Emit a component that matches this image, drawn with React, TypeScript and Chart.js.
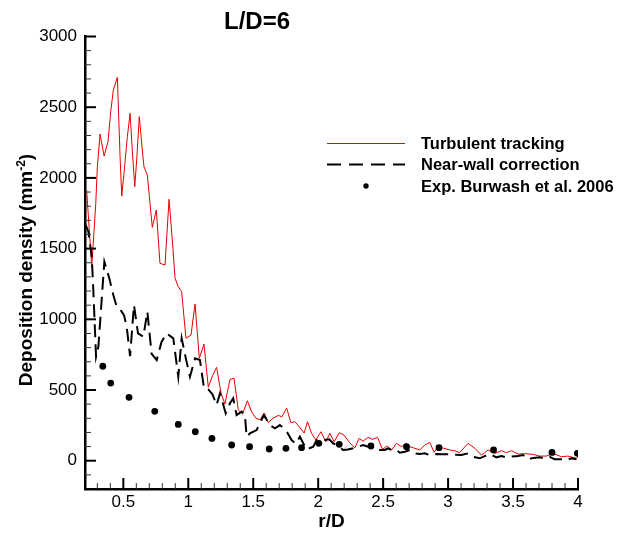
import React, { useEffect, useRef } from 'react';
import { Chart, registerables } from 'chart.js';

Chart.register(...registerables);

const FONT = '"Liberation Sans", Arial, Helvetica, sans-serif';

const TITLE = 'L/D=6';
const X_TITLE = 'r/D';
const SERIES_LABELS = ['Turbulent tracking', 'Near-wall correction', 'Exp. Burwash et al. 2006'];

const X_TICKS = [0.5, 1, 1.5, 2, 2.5, 3, 3.5, 4];
const Y_TICKS = [0, 500, 1000, 1500, 2000, 2500, 3000];

// Turbulent tracking (simulation)
const TURB_R = [
  0.218, 0.24, 0.257, 0.288, 0.3, 0.321, 0.352, 0.382, 0.403, 0.423, 0.454, 0.475, 0.488, 0.505,
  0.531, 0.552, 0.569, 0.588, 0.603, 0.623, 0.646, 0.659, 0.685, 0.703, 0.723, 0.754, 0.782, 0.821,
  0.852, 0.882, 0.898, 0.923, 0.949, 0.982, 1.021, 1.052, 1.085, 1.121, 1.154, 1.186, 1.218, 1.252,
  1.282, 1.321, 1.352, 1.385, 1.418, 1.455, 1.488, 1.521, 1.552, 1.585, 1.615, 1.652, 1.692, 1.721,
  1.757, 1.79, 1.821, 1.859, 1.892, 1.918, 1.949, 1.982, 2.021, 2.059, 2.09, 2.123, 2.162, 2.198,
  2.24, 2.282, 2.315, 2.346, 2.385, 2.418, 2.457, 2.495, 2.531, 2.565, 2.603, 2.642, 2.675, 2.705,
  2.744, 2.782, 2.821, 2.859, 2.892, 2.923, 2.967, 3.013, 3.052, 3.09, 3.121, 3.154, 3.205, 3.257,
  3.308, 3.359, 3.411, 3.449, 3.488, 3.538, 3.59, 3.654, 3.705, 3.757, 3.808, 3.872, 3.923, 3.987, 4.0,
];
const TURB_D = [
  1914, 1600, 1372, 1820, 2079, 2310, 2155, 2256, 2468, 2621, 2711, 2150, 1872, 2032,
  2291, 2457, 2197, 1938, 2127, 2433, 2197, 2079, 2020, 1844, 1650, 1773, 1396, 1384,
  1849, 1500, 1290, 1231, 1195, 866, 889, 1108, 724, 825, 520, 600, 660, 480,
  400, 575, 583, 360, 330, 424, 345, 300, 290, 337, 270, 300, 320, 311,
  373, 269, 276, 235, 196, 276, 194, 146, 205, 134, 194, 134, 198, 182,
  130, 90, 158, 139, 165, 151, 165, 81, 104, 76, 123, 99, 123, 99,
  88, 76, 111, 130, 60, 99, 88, 76, 70, 57, 90, 123, 88, 40,
  76, 52, 71, 57, 71, 47, 50, 45, 33, 33, 52, 28, 33, 17, 26,
];

// Near-wall correction (simulation)
const WALL_R = [
  0.211, 0.231, 0.257, 0.269, 0.29, 0.308, 0.354, 0.392, 0.423, 0.449, 0.475, 0.505, 0.526, 0.552,
  0.582, 0.613, 0.654, 0.685, 0.718, 0.757, 0.794, 0.834, 0.885, 0.923, 0.949, 0.982, 1.013, 1.052,
  1.09, 1.121, 1.154, 1.186, 1.218, 1.244, 1.288, 1.321, 1.346, 1.372, 1.411, 1.436, 1.449, 1.475,
  1.526, 1.582, 1.628, 1.667, 1.705, 1.752, 1.795, 1.828, 1.859, 1.885, 1.911, 1.962, 1.988, 2.021,
  2.052, 2.085, 2.115, 2.154, 2.192, 2.228, 2.269, 2.308, 2.346, 2.385, 2.423, 2.462, 2.513, 2.538,
  2.577, 2.603, 2.628, 2.667, 2.705, 2.744, 2.782, 2.821, 2.859, 2.911, 2.952, 3.0, 3.052, 3.103,
  3.154, 3.192, 3.244, 3.282, 3.321, 3.372, 3.411, 3.449, 3.49, 3.538, 3.577, 3.615, 3.659, 3.705,
  3.744, 3.782, 3.821, 3.872, 3.911, 3.949, 3.988,
];
const WALL_D = [
  1667, 1620, 1443, 1207, 735, 806, 1407, 1290, 1172, 1089, 1071, 1030, 948, 740,
  1101, 900, 877, 1054, 755, 712, 840, 901, 865, 594, 865, 720, 594, 724,
  712, 512, 505, 470, 394, 477, 335, 406, 441, 323, 347, 323, 170, 194,
  217, 323, 252, 229, 252, 217, 146, 120, 170, 123, 80, 99, 146, 140,
  146, 151, 123, 104, 76, 80, 88, 99, 111, 99, 88, 76, 76, 88,
  71, 76, 57, 64, 76, 52, 47, 52, 40, 47, 45, 45, 42, 40,
  52, 28, 17, 33, 47, 24, 33, 24, 30, 33, 40, 10, 20, 24,
  17, 28, 10, 10, 5, 17, 10,
];

// Experimental measurements
const EXP_R = [
  0.342, 0.403, 0.544, 0.742, 0.923, 1.054, 1.182, 1.334, 1.472, 1.623,
  1.752, 1.872, 2.005, 2.162, 2.406, 2.68, 2.93, 3.35, 3.8, 3.995,
];
const EXP_D = [
  668, 549, 448, 349, 257, 205, 158, 111, 99, 83,
  88, 92, 123, 116, 104, 99, 92, 76, 59, 52,
];

const RED = 'rgb(232,0,0)';
const DASH = [13, 7];

const toPoints = (xs: number[], ys: number[]) => xs.map((x, i) => ({ x, y: ys[i] }));

const decorPlugin = {
  id: 'decor',
  afterDraw(chart: any) {
    const { ctx, chartArea, scales } = chart;
    const { left, bottom } = chartArea;
    const xs = scales.x;
    const ys = scales.y;
    ctx.save();
    ctx.strokeStyle = '#000';
    ctx.lineCap = 'butt';

    // inward ticks on the r/D axis: majors every 0.5, minors every 0.1
    for (let i = 3; i <= 40; i++) {
      const major = i % 5 === 0;
      const px = xs.getPixelForValue(i / 10);
      ctx.lineWidth = major ? 2 : 1;
      ctx.strokeStyle = major ? '#000' : '#333';
      ctx.beginPath();
      ctx.moveTo(px, bottom);
      ctx.lineTo(px, bottom - (major ? 11 : 6));
      ctx.stroke();
    }
    // inward ticks on the density axis: majors every 500, minors every 100
    for (let v = -100; v <= 3000; v += 100) {
      const major = v % 500 === 0;
      const py = ys.getPixelForValue(v);
      ctx.lineWidth = major ? 2 : 1;
      ctx.strokeStyle = major ? '#000' : '#333';
      ctx.beginPath();
      ctx.moveTo(left, py);
      ctx.lineTo(left + (major ? 11 : 6), py);
      ctx.stroke();
    }

    ctx.fillStyle = '#000';
    // title
    ctx.font = `bold 24px ${FONT}`;
    ctx.textAlign = 'center';
    ctx.textBaseline = 'alphabetic';
    ctx.fillText(TITLE, 257, 29);

    // x axis title
    ctx.font = `bold 19px ${FONT}`;
    ctx.fillText(X_TITLE, (xs.left + xs.right) / 2, 527);

    // y axis title with superscript
    const main = 'Deposition density (mm';
    const sup = '-2';
    const close = ')';
    ctx.font = `bold 19px ${FONT}`;
    const wMain = ctx.measureText(main).width;
    const wClose = ctx.measureText(close).width;
    ctx.font = `bold 12px ${FONT}`;
    const wSup = ctx.measureText(sup).width;
    const total = wMain + wSup + wClose;
    ctx.save();
    ctx.translate(31.5, 270);
    ctx.rotate(-Math.PI / 2);
    ctx.textAlign = 'left';
    let x0 = -total / 2;
    ctx.font = `bold 19px ${FONT}`;
    ctx.fillText(main, x0, 0);
    x0 += wMain;
    ctx.font = `bold 12px ${FONT}`;
    ctx.fillText(sup, x0, -7);
    x0 += wSup;
    ctx.font = `bold 19px ${FONT}`;
    ctx.fillText(close, x0, 0);
    ctx.restore();

    // legend
    const lx0 = 327;
    const lx1 = 405;
    const rows = [143.5, 164.5, 186];
    ctx.strokeStyle = RED;
    ctx.lineWidth = 1;
    ctx.beginPath();
    ctx.moveTo(lx0, rows[0]);
    ctx.lineTo(lx1, rows[0]);
    ctx.stroke();

    ctx.strokeStyle = '#000';
    ctx.lineWidth = 2;
    ctx.setLineDash([14, 8]);
    ctx.beginPath();
    ctx.moveTo(lx0, rows[1]);
    ctx.lineTo(lx1, rows[1]);
    ctx.stroke();
    ctx.setLineDash([]);

    ctx.beginPath();
    ctx.arc((lx0 + lx1) / 2, rows[2], 2.7, 0, Math.PI * 2);
    ctx.fill();

    ctx.font = `bold 16.5px ${FONT}`;
    ctx.textAlign = 'left';
    ctx.textBaseline = 'alphabetic';
    SERIES_LABELS.forEach((label, i) => {
      ctx.fillText(label, 421, rows[i] + 5.5);
    });

    ctx.restore();
  },
};

export default function App() {
  const canvasRef = useRef<HTMLCanvasElement | null>(null);

  useEffect(() => {
    const canvas = canvasRef.current;
    if (!canvas) return;
    const chart = new Chart(canvas, {
      type: 'scatter',
      data: {
        datasets: [
          {
            label: SERIES_LABELS[0],
            data: toPoints(TURB_R, TURB_D),
            showLine: true,
            borderColor: RED,
            borderWidth: 1,
            pointRadius: 0,
            tension: 0,
            order: 2,
          },
          {
            label: SERIES_LABELS[1],
            data: toPoints(WALL_R, WALL_D),
            showLine: true,
            borderColor: '#000',
            borderWidth: 2,
            borderDash: DASH,
            pointRadius: 0,
            tension: 0,
            order: 1,
          },
          {
            label: SERIES_LABELS[2],
            data: toPoints(EXP_R, EXP_D),
            showLine: false,
            pointRadius: 3.4,
            pointBackgroundColor: '#000',
            pointBorderWidth: 0,
            order: 0,
          },
        ],
      },
      options: {
        responsive: false,
        animation: false,
        devicePixelRatio: 1,
        layout: { padding: { top: 36.5, right: 46, left: 0, bottom: 0 } },
        plugins: {
          legend: { display: false },
          title: { display: false },
          tooltip: { enabled: false },
        },
        scales: {
          x: {
            type: 'linear',
            min: 0.205,
            max: 4,
            afterBuildTicks: (s: any) => {
              s.ticks = X_TICKS.map((value) => ({ value }));
            },
            afterFit: (s: any) => {
              s.height = 44;
            },
            grid: { drawOnChartArea: false, drawTicks: false },
            border: { color: '#000', width: 2.5 },
            ticks: {
              autoSkip: false,
              maxRotation: 0,
              padding: 3,
              color: '#000',
              font: { family: FONT, size: 17 },
              callback: (v: any) => String(Number(v)),
            },
          },
          y: {
            type: 'linear',
            min: -200,
            max: 3000,
            afterBuildTicks: (s: any) => {
              s.ticks = Y_TICKS.map((value) => ({ value }));
            },
            afterFit: (s: any) => {
              s.width = 85;
            },
            grid: { drawOnChartArea: false, drawTicks: false },
            border: { color: '#000', width: 2.5 },
            ticks: {
              padding: 8,
              color: '#000',
              font: { family: FONT, size: 17 },
              callback: (v: any) => String(Number(v)),
            },
          },
        },
      },
      plugins: [decorPlugin],
    });
    return () => chart.destroy();
  }, []);

  return (
    <div style={{ position: 'fixed', left: 0, top: 0, width: 624, height: 533, background: '#fff' }}>
      <canvas ref={canvasRef} width={624} height={533} style={{ display: 'block' }} />
    </div>
  );
}
